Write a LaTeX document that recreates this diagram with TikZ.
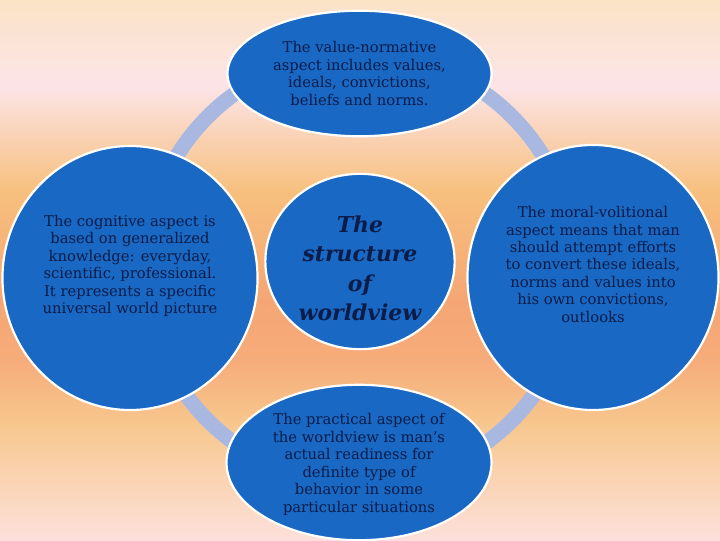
\documentclass[tikz,border=0pt]{standalone}
\usepackage{fontspec}
\setmainfont{DejaVu Serif}
\usetikzlibrary{shapes.geometric}

\definecolor{bgA}{HTML}{FBE3C6}
\definecolor{bgB}{HTML}{FCE4E8}
\definecolor{bgC}{HTML}{F7C07E}
\definecolor{bgD}{HTML}{F5A674}
\definecolor{bgE}{HTML}{F6AC7A}
\definecolor{bgF}{HTML}{F7C88E}
\definecolor{bgG}{HTML}{FDE0DC}
\definecolor{ringblue}{HTML}{A8B8E0}
\definecolor{aspectblue}{HTML}{1868C4}
\definecolor{navy}{HTML}{0B1C48}

\begin{document}
\begin{tikzpicture}
  [x=1bp,y=-1bp,
   aspect/.style={shape=ellipse, fill=aspectblue, draw=white, line width=2.2pt, inner sep=0pt},
   words/.style={align=center, text=navy, inner sep=0pt, font=\fontsize{14.8}{17.5}\selectfont},
   core/.style={align=center, text=navy, inner sep=0pt, font=\fontsize{22}{29.5}\selectfont\bfseries\itshape}]

% background bands
\foreach \ya/\ca/\yb/\cb in {0/bgA/85/bgB, 85/bgB/190/bgC, 190/bgC/300/bgD,
                             300/bgD/360/bgE, 360/bgE/425/bgF, 425/bgF/540/bgG}
  \fill [top color=\ca, bottom color=\cb] (0,\ya-0.5) rectangle (720,\yb+0.5);
\useasboundingbox (0,0) rectangle (720,540);

% ring behind the aspects
\coordinate (hub) at (360,268);
\draw [ringblue, line width=15bp] (hub) circle [radius=215];

% the five ellipses
\node (value)     at (359.5,73)  [aspect, minimum width=265, minimum height=126] {};
\node (cognitive) at (130,277.5) [aspect, minimum width=256, minimum height=265] {};
\node (moral)     at (593,277)   [aspect, minimum width=252, minimum height=266] {};
\node (practical) at (359,462)   [aspect, minimum width=266, minimum height=156] {};
\node (structure) at (360,261)   [aspect, minimum width=190, minimum height=176] {};

% texts
\node (valuetext) at (value) [words]
  {The value-normative\\aspect includes values,\\ideals, convictions,\\beliefs and norms.};
\node (cognitivetext) at ([yshift=12bp]cognitive) [words]
  {The cognitive aspect is\\based on generalized\\knowledge: everyday,\\scientific, professional.\\It represents a specific\\universal world picture};
\node (moraltext) at ([yshift=13bp]moral) [words]
  {The moral-volitional\\aspect means that man\\should attempt efforts\\to convert these ideals,\\norms and values into\\his own convictions,\\outlooks};
\node (practicaltext) at ([yshift=-2bp]practical) [words]
  {The practical aspect of\\the worldview is man's\\actual readiness for\\definite type of\\behavior in some\\particular situations};
\node (structuretext) at ([yshift=-7bp]structure) [core]
  {The\\structure\\of\\worldview};

\end{tikzpicture}
\end{document}
